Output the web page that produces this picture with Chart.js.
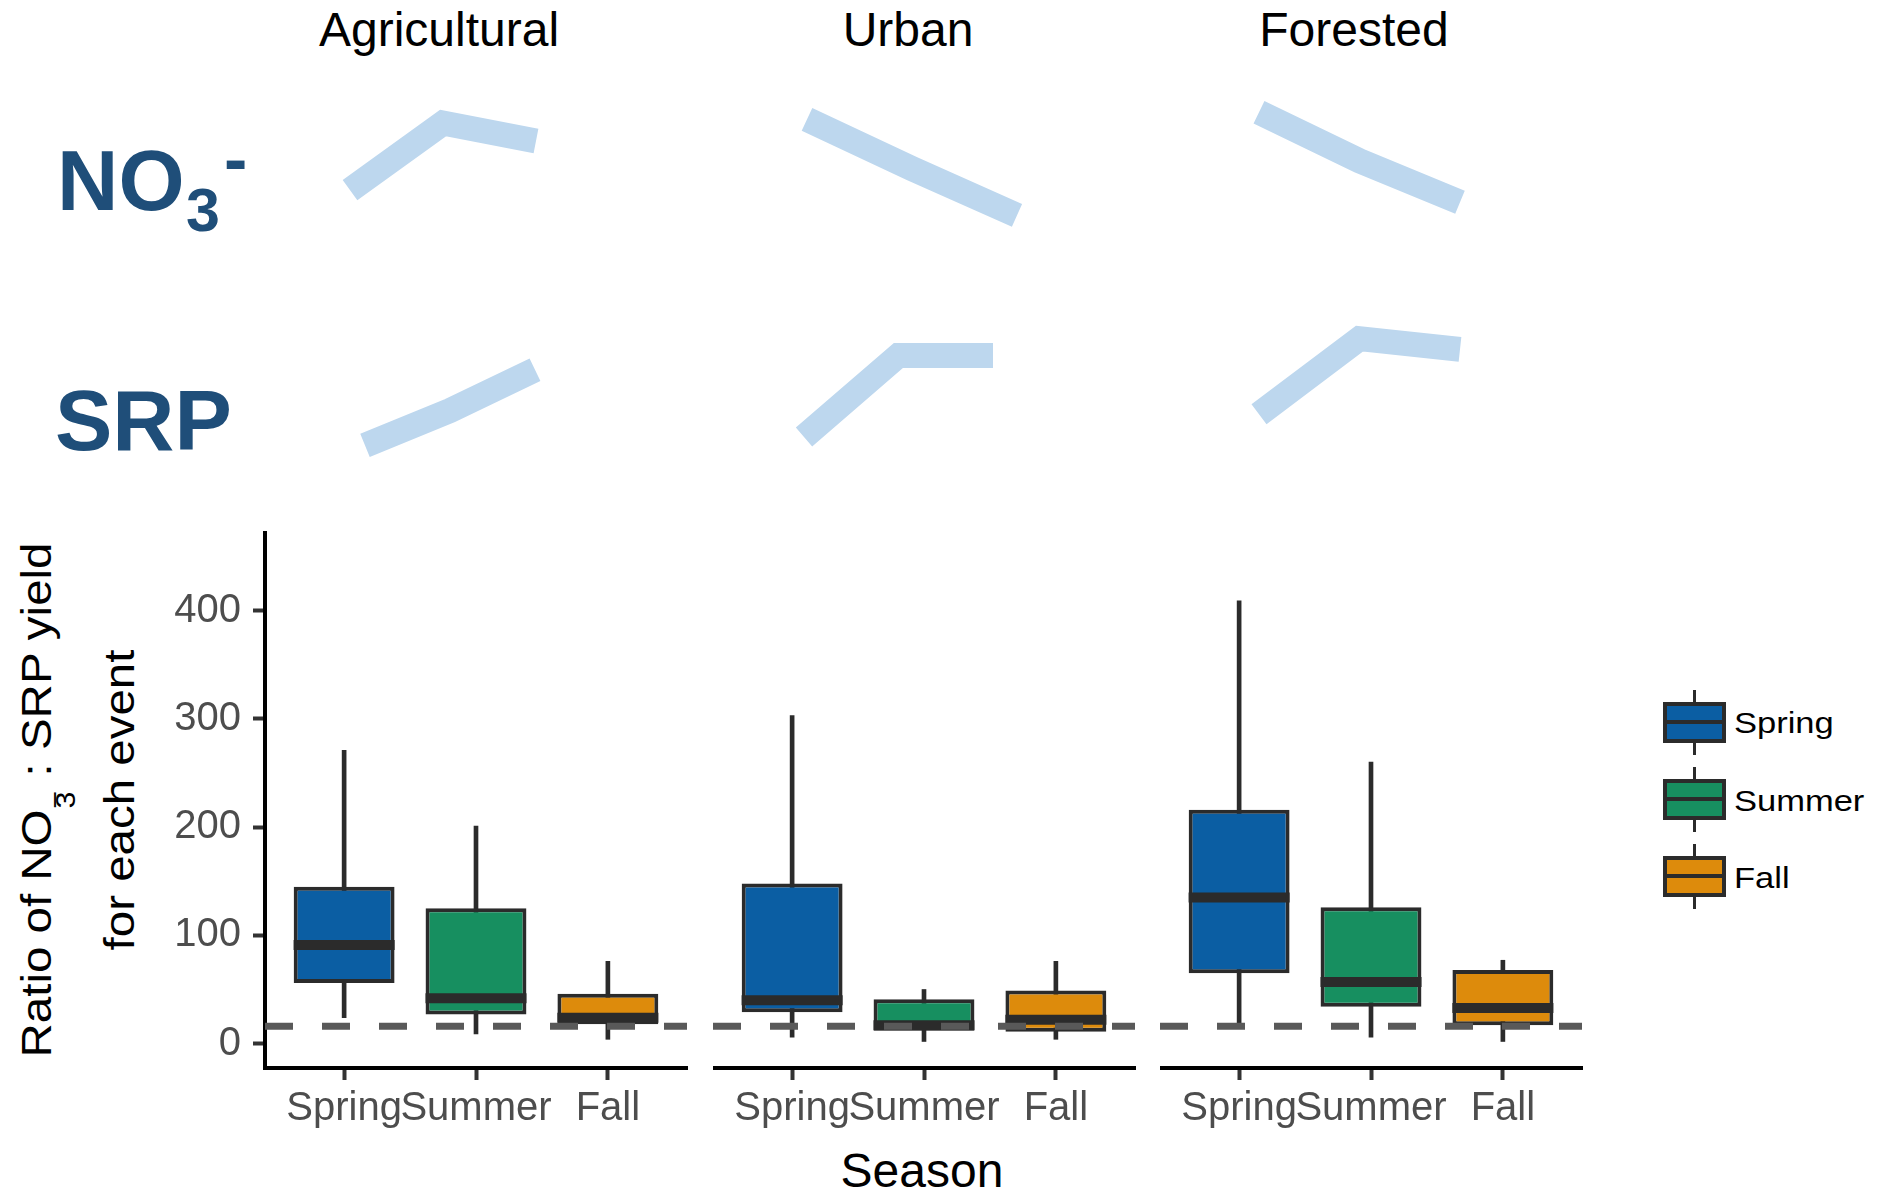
<!DOCTYPE html>
<html>
<head>
<meta charset="utf-8">
<title>Ratio of NO3- : SRP yield by season and watershed</title>
<script src="https://cdn.jsdelivr.net/npm/chart.js@4.4.1/dist/chart.umd.min.js"></script>
<style>
  html, body { margin: 0; padding: 0; background: #ffffff; }
  #figure { position: relative; width: 1877px; height: 1192px; overflow: hidden;
            font-family: "Liberation Sans", Arial, Helvetica, sans-serif; color: #000; }
  #figure canvas { position: absolute; }
  .txt { position: absolute; white-space: nowrap; line-height: 1; }
  .facet { font-size: 48px; transform: translateX(-50%); }
  .nutrient { font-weight: bold; color: #1F4E79; }
  .ytitle { position: absolute; white-space: nowrap; line-height: 1; font-size: 42px;
            transform: translate(-50%, -50%) rotate(-90deg) scaleX(1.13); }
  .ion { position: relative; display: inline-block; width: 0.42em; height: 0; }
  .ion span { position: absolute; left: 1px; font-size: 27px; line-height: 1; }
  .key { position: absolute; box-sizing: border-box; }
  .legtxt { font-size: 30px; transform-origin: 0 0; transform: scaleX(1.15); }
</style>
</head>
<body>
<div id="figure">
  <div class="txt facet" style="left:439px; top:6px;">Agricultural</div>
  <div class="txt facet" style="left:908px; top:6px;">Urban</div>
  <div class="txt facet" style="left:1354px; top:6px;">Forested</div>

  <div class="txt nutrient" style="left:57px; top:138px; font-size:85px;">NO</div>
  <div class="txt nutrient" style="left:186px; top:180px; font-size:61px;">3</div>
  <div class="txt nutrient" style="left:224px; top:124px; font-size:70px;">-</div>
  <div class="txt nutrient" style="left:55px; top:377px; font-size:86px;">SRP</div>

  <div class="ytitle" style="left:37px; top:800px;">Ratio of NO<span class="ion"><span style="top:-9px;">&#8722;</span><span style="top:2px;">3</span></span> : SRP yield</div>
  <div class="ytitle" style="left:120px; top:800px;">for each event</div>

  <div class="txt" style="left:922px; top:1147px; font-size:48px; transform:translateX(-50%);">Season</div>
</div>

<script>
// ---------------- data ----------------
const seasons = ['Spring', 'Summer', 'Fall'];
const watersheds = ['Agricultural', 'Urban', 'Forested'];
const seasonColors = ['#0B5EA3', '#178F60', '#DD8B0C'];

// NO3- : SRP yield ratio per event, box-plot summaries
// rows: Agricultural, Urban, Forested; columns: Spring, Summer, Fall
const whiskerLow  = [[24, 9, 4],     [6, 2, 4],     [17, 6, 2]];
const lowerQuart  = [[56, 27, 18],   [29, 12, 11],  [65, 34, 17]];
const medianRatio = [[91, 42, 24],   [40, 17, 22],  [135, 57, 33]];
const upperQuart  = [[145, 125, 46], [148, 41, 49], [216, 126, 68]];
const whiskerHigh = [[271, 201, 76], [303, 50, 76], [409, 260, 77]];

const redfieldRatio = 16;               // 16:1 reference ratio
const yTicks = [0, 100, 200, 300, 400];
const yLimits = [-22.5, 471.6];
const xLimits = [0.4, 3.6];

// seasonal trend sketches (relative level: 0 = low, 1 = high), Spring -> Fall
const no3Trend = [[0.29, 0.85, 0.70], [0.88, 0.47, 0.08], [0.94, 0.535, 0.19]];
const srpTrend = [[0.08, 0.37, 0.71], [0.15, 0.83, 0.83], [0.34, 0.97, 0.88]];

// ---------------- layout ----------------
const FONT = '"Liberation Sans", Arial, Helvetica, sans-serif';
const fig = document.getElementById('figure');
const INK = '#2B2B2B';
const PANEL_TOP = 480, PANEL_H = 680;
const AXIS_TOP = 533, AXIS_BOTTOM = 1068;
const panelLeft = [265, 713, 1160];
const panelWidth = 422;

function addCanvas(left, top, width, height) {
  const c = document.createElement('canvas');
  c.width = width; c.height = height;
  c.style.left = left + 'px'; c.style.top = top + 'px';
  fig.appendChild(c);
  return c;
}

// one facet panel of box plots per watershed
function makePanel(w) {
  const first = (w === 0);
  const left = first ? 0 : panelLeft[w];
  const rightPad = 30;
  const width = panelLeft[w] + panelWidth + rightPad - left;
  const canvas = addCanvas(left, PANEL_TOP, width, PANEL_H);
  const pos = seasons.map((s, i) => i + 1);

  new Chart(canvas, {
    type: 'bar',
    data: {
      datasets: [
        {
          label: 'whiskers',
          data: pos.map((x, i) => ({ x, y: [whiskerLow[w][i], whiskerHigh[w][i]] })),
          backgroundColor: INK,
          barThickness: 4,
          grouped: false,
          order: 3
        },
        {
          label: 'interquartile range',
          data: pos.map((x, i) => ({ x, y: [lowerQuart[w][i], upperQuart[w][i]] })),
          backgroundColor: seasonColors,
          borderColor: INK,
          borderWidth: 4,
          borderSkipped: false,
          barPercentage: 0.765,
          categoryPercentage: 1,
          grouped: false,
          order: 2
        },
        {
          type: 'line',
          label: 'median',
          data: pos.map((x, i) => ({ x, y: medianRatio[w][i] })),
          showLine: false,
          pointStyle: 'line',
          pointRadius: 50.5,
          pointBorderWidth: 10,
          pointBorderColor: INK,
          clip: false,
          order: 1
        },
        {
          type: 'line',
          label: 'Redfield ratio',
          data: xLimits.map(x => ({ x, y: redfieldRatio })),
          borderColor: '#595959',
          borderWidth: 7,
          borderDash: [28, 29],
          pointRadius: 0,
          order: 0
        }
      ]
    },
    options: {
      responsive: false,
      animation: false,
      events: [],
      layout: { autoPadding: false, padding: { top: AXIS_TOP - PANEL_TOP, right: rightPad, left: 0, bottom: 0 } },
      plugins: { legend: { display: false }, tooltip: { enabled: false } },
      scales: {
        x: {
          type: 'linear',
          min: xLimits[0], max: xLimits[1],
          offset: false,
          afterBuildTicks: ax => { ax.ticks = pos.map(v => ({ value: v })); },
          afterFit: ax => { ax.height = PANEL_TOP + PANEL_H - AXIS_BOTTOM; },
          ticks: {
            callback: v => seasons[v - 1],
            color: '#4D4D4D',
            font: { family: FONT, size: 40 },
            padding: 5,
            autoSkip: false,
            maxRotation: 0, minRotation: 0
          },
          grid: { drawOnChartArea: false, drawTicks: true, tickLength: 12, tickWidth: 4, tickColor: '#333333', offset: false },
          border: { display: true, color: '#000000', width: 4 }
        },
        y: {
          display: first,
          min: yLimits[0], max: yLimits[1],
          afterBuildTicks: ax => { ax.ticks = yTicks.map(v => ({ value: v })); },
          afterFit: ax => { if (first) ax.width = panelLeft[0]; },
          ticks: { color: '#4D4D4D', font: { family: FONT, size: 40 }, padding: 12 },
          grid: { drawOnChartArea: false, drawTicks: true, tickLength: 12, tickWidth: 4, tickColor: '#333333' },
          border: { display: true, color: '#000000', width: 4 }
        }
      }
    }
  });
}

watersheds.forEach((name, w) => makePanel(w));

// ---------------- trend sketches ----------------
const sketchRows = [
  { trend: no3Trend, top: 105, height: 120, spans: [[350, 536], [807, 1017], [1259, 1460]] },
  { trend: srpTrend, top: 335, height: 120, spans: [[365, 535], [804, 993], [1259, 1460]] }
];
const PAD = 20;

sketchRows.forEach(row => {
  watersheds.forEach((name, w) => {
    const [x0, x1] = row.spans[w];
    const canvas = addCanvas(x0 - PAD, row.top - PAD, x1 - x0 + 2 * PAD, row.height + 2 * PAD);
    new Chart(canvas, {
      type: 'line',
      data: {
        labels: seasons,
        datasets: [{
          data: row.trend[w],
          borderColor: '#BDD7EE',
          borderWidth: 25,
          borderJoinStyle: 'miter',
          borderCapStyle: 'butt',
          pointRadius: 0,
          tension: 0,
          fill: false,
          clip: false
        }]
      },
      options: {
        responsive: false,
        animation: false,
        events: [],
        layout: { autoPadding: false, padding: PAD },
        plugins: { legend: { display: false }, tooltip: { enabled: false } },
        scales: {
          x: { display: false, offset: false },
          y: { display: false, min: 0, max: 1 }
        }
      }
    });
  });
});

// ---------------- legend ----------------
seasons.forEach((s, i) => {
  const dy = i * 77;
  const whisker = document.createElement('div');
  whisker.className = 'key';
  Object.assign(whisker.style, { left: '1693px', top: (690 + dy) + 'px', width: '3px', height: '65px', background: INK });
  fig.appendChild(whisker);

  const box = document.createElement('div');
  box.className = 'key';
  Object.assign(box.style, { left: '1663px', top: (702 + dy) + 'px', width: '63px', height: '41px',
    background: seasonColors[i], border: '4px solid ' + INK });
  fig.appendChild(box);

  const med = document.createElement('div');
  med.className = 'key';
  Object.assign(med.style, { left: '1663px', top: (720 + dy) + 'px', width: '63px', height: '4px', background: INK });
  fig.appendChild(med);

  const lab = document.createElement('div');
  lab.className = 'txt legtxt';
  lab.textContent = s;
  Object.assign(lab.style, { left: '1734px', top: (708 + i * 77.5) + 'px' });
  fig.appendChild(lab);
});
</script>
</body>
</html>
